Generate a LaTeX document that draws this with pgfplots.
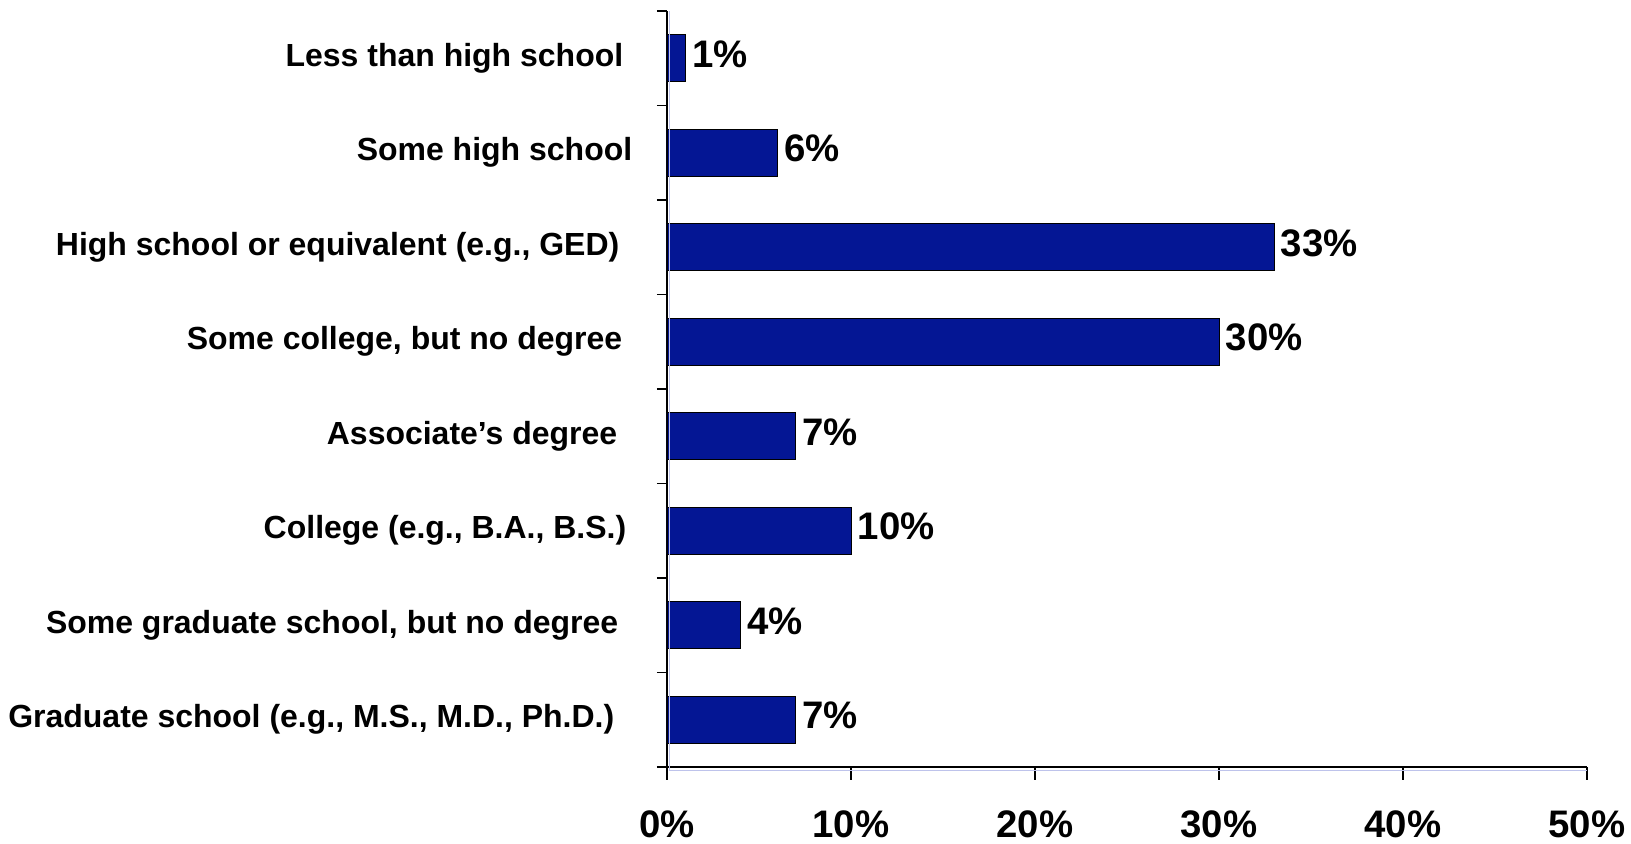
\documentclass[border=0pt]{standalone}
\usepackage{pgfplots}
\pgfplotsset{compat=1.18}
\usepackage{fontspec}
\setmainfont{Liberation Sans}
\definecolor{barblue}{RGB}{4,22,148}
\definecolor{shadow}{RGB}{190,195,235}
\begin{document}
\begin{tikzpicture}[x=1bp,y=1bp]
\begin{axis}[
  name=ax,
  scale only axis,
  width=920bp, height=756bp,
  xbar, bar width=0.5,
  xmin=0, xmax=50,
  ymin=0.5, ymax=8.5,
  y dir=reverse,
  axis lines*=left,
  axis line style={black, line width=1.2bp},
  xtick={0,10,20,30,40,50},
  xticklabel={\pgfmathprintnumber{\tick}\%},
  /pgf/number format/assume math mode=true,
  x tick label style={font=\fontsize{38.5}{42}\selectfont\bfseries, yshift=-36bp},
  xtick style={black, line width=1.2bp},
  xtick align=outside,
  major x tick style={/pgfplots/major tick length=13bp},
  ytick={1,...,8},
  yticklabels={Less than high school\kern2bp,Some high school\kern-7bp,High school or equivalent (e.g.{,} GED)\kern6bp,Some college{,} but no degree\kern3bp,Associate's degree\kern8bp,College (e.g.{,} B.A.{,} B.S.)\kern-1bp,Some graduate school{,} but no degree\kern7bp,Graduate school (e.g.{,} M.S.{,} M.D.{,} Ph.D.)\kern11bp},
  y tick label style={font=\fontsize{32.1}{38}\selectfont\bfseries, anchor=east, xshift=-34bp},
  major y tick style={draw=none},
  minor ytick={0.5,1.5,...,8.5},
  minor y tick style={black, line width=1.2bp, /pgfplots/minor tick length=10bp},
  ytick align=outside,
  nodes near coords={\pgfmathprintnumber{\pgfplotspointmeta}\%},
  nodes near coords align={horizontal},
  every node near coord/.append style={font=\fontsize{38.5}{42}\selectfont\bfseries, black, xshift=3bp, yshift=4bp},
  clip=false,
]
\addplot[fill=barblue, draw=black, line width=0.8bp] coordinates {
(1,1) (6,2) (33,3) (30,4) (7,5) (10,6) (4,7) (7,8)
};
\draw[shadow, line width=1bp] ([xshift=3bp]rel axis cs:0,1) -- ([xshift=3bp, yshift=-3bp]rel axis cs:0,0) -- ([yshift=-3bp]rel axis cs:1,0);
\end{axis}
\pgfresetboundingbox
\path ([shift={(-667bp,-77bp)}]ax.south west) rectangle ([shift={(44bp,11bp)}]ax.north east);
\end{tikzpicture}
\end{document}
